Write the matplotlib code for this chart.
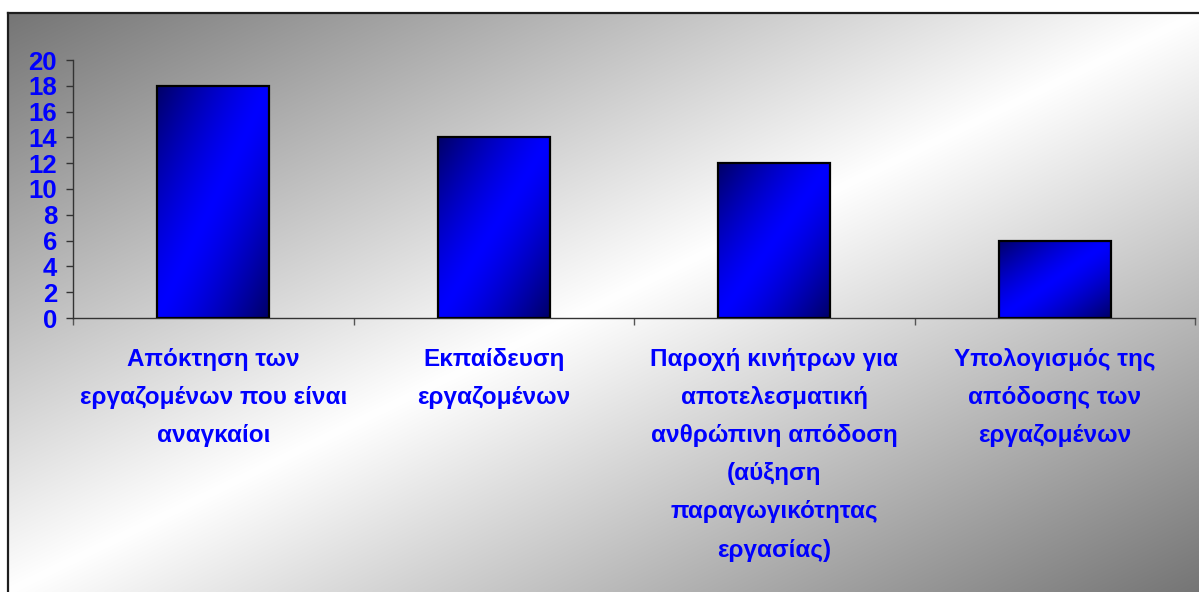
import numpy as np
import matplotlib
matplotlib.use("Agg")
import matplotlib.pyplot as plt

# Survey results: number of mentions per HR function
categories = [
    "Απόκτηση των\nεργαζομένων που είναι\nαναγκαίοι",
    "Εκπαίδευση\nεργαζομένων",
    "Παροχή κινήτρων για\nαποτελεσματική\nανθρώπινη απόδοση\n(αύξηση\nπαραγωγικότητας\nεργασίας)",
    "Υπολογισμός της\nαπόδοσης των\nεργαζομένων",
]
values = [18, 14, 12, 6]
yticks = list(range(0, 21, 2))

FONT = ["Liberation Sans", "DejaVu Sans"]
BLUE = "#0000ff"

W, H = 1199, 592
fig = plt.figure(figsize=(W / 100, H / 100), dpi=100)
fig.patch.set_facecolor("white")

# Framed chart area with a diagonal grey-white-grey gradient
bg = fig.add_axes([8 / W, 0, 1 - 8 / W, 1 - 13 / H], zorder=0)
gx, gy = np.meshgrid(np.linspace(0, 1, 800), np.linspace(0, 1, 400))
s = np.abs(gx + gy - 1)
g = 1 - (1 - 0.46) * s
bg.imshow(np.dstack([g, g, g]), extent=(0, 1, 0, 1), origin="upper",
          aspect="auto", interpolation="bilinear")
bg.set_xlim(0, 1)
bg.set_ylim(0, 1)
bg.set_xticks([])
bg.set_yticks([])
for side in ("right", "bottom"):
    bg.spines[side].set_visible(False)
for side in ("left", "top"):
    bg.spines[side].set_linewidth(1.6)
    bg.spines[side].set_color("#1e1e1e")

# Plot area
ax = fig.add_axes([73 / W, 1 - 318 / H, (1195 - 73) / W, (318 - 60) / H], zorder=1)
ax.patch.set_alpha(0)

x = np.arange(len(values))
bars = ax.bar(x, values, width=0.4, facecolor="none", edgecolor="black",
              linewidth=1.6, zorder=3)

# Diagonal blue gradient fill inside each bar
bright = np.array([0.0, 0.0, 1.0])
dark = np.array([0.0, 0.0, 0.40])
u, v = np.meshgrid(np.linspace(0, 1, 120), np.linspace(0, 1, 240))
t = (np.abs(u - v) ** 1.3)[..., None]
fill = bright * (1 - t) + dark * t
for b in bars:
    im = ax.imshow(fill, extent=(b.get_x(), b.get_x() + b.get_width(), 0, b.get_height()),
                   origin="lower", aspect="auto", interpolation="bilinear", zorder=2)
    im.set_clip_path(b)

ax.set_xlim(-0.5, len(values) - 0.5)
ax.set_ylim(0, 20)
ax.set_yticks(yticks)
ax.set_xticks(np.arange(-0.5, len(values), 1.0))
ax.set_xticklabels([])
ax.tick_params(axis="y", direction="out", length=5, width=1, color="#333333", pad=6.5)
ax.tick_params(axis="x", direction="out", length=5, width=1, color="#555555")
for side in ("top", "right"):
    ax.spines[side].set_visible(False)
for side in ("left", "bottom"):
    ax.spines[side].set_color("#333333")
    ax.spines[side].set_linewidth(1)

for lab in ax.get_yticklabels():
    lab.set_family(FONT)
    lab.set_fontweight("bold")
    lab.set_fontsize(18.5)
    lab.set_color(BLUE)

for i, text in enumerate(categories):
    ax.annotate(text, xy=(i, 0), xycoords="data", xytext=(0, -30),
                textcoords="offset pixels", ha="center", va="top",
                multialignment="center", linespacing=1.84,
                family=FONT, fontweight="bold", fontsize=17.5, color=BLUE)

fig.savefig("out.png", dpi=100)
